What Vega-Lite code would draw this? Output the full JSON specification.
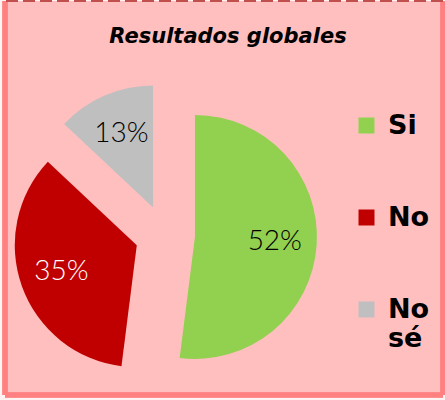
{
  "$schema": "https://vega.github.io/schema/vega-lite/v6.json",
  "width": 438,
  "height": 394,
  "autosize": "none",
  "padding": {"left": 5, "top": 1, "right": 2, "bottom": 5},
  "background": "#FFF2F2",
  "title": {"text": "Resultados globales", "font": "DejaVu Sans", "fontSize": 21, "fontWeight": "bold", "fontStyle": "italic", "color": "black", "offset": -42, "baseline": "alphabetic", "dx": 4, "dy": 23},
  "config": {"view": {"fill": "#FFBFBF", "stroke": null}},
  "data": {"values": [
    {"respuesta": "Si", "porcentaje": 0.52},
    {"respuesta": "No", "porcentaje": 0.35},
    {"respuesta": "No sé", "porcentaje": 0.13}
  ]},
  "transform": [
    {"window": [{"op": "sum", "field": "porcentaje", "as": "fin"}], "sort": [{"field": "porcentaje", "order": "descending"}], "frame": [null, 0]},
    {"calculate": "datum.fin - datum.porcentaje", "as": "inicio"},
    {"calculate": "datum.fin - datum.porcentaje / 2", "as": "medio"},
    {"calculate": "sin(datum.medio * 2 * PI)", "as": "ex"},
    {"calculate": "cos(datum.medio * 2 * PI)", "as": "ey"}
  ],
  "layer": [
    {
      "mark": {"type": "arc", "outerRadius": 122},
      "encoding": {
        "x": {"field": "ex", "type": "quantitative", "scale": {"domain": [-5.3333, 9.2667], "nice": false, "zero": false}, "axis": null},
        "y": {"field": "ey", "type": "quantitative", "scale": {"domain": [-5.3333, 7.8], "nice": false, "zero": false}, "axis": null},
        "theta": {"field": "inicio", "type": "quantitative", "scale": {"domain": [0, 1], "range": [0, 6.283185307]}, "stack": null},
        "theta2": {"field": "fin"},
        "color": {
          "field": "respuesta", "type": "nominal",
          "scale": {"domain": ["Si", "No", "No sé"], "range": ["#92D050", "#C00000", "#BFBFBF"]},
          "legend": {
            "orient": "none", "legendX": 348, "legendY": 111, "title": null,
            "symbolType": "square", "symbolSize": 256, "symbolStrokeWidth": 0,
            "labelFont": "DejaVu Sans", "labelFontSize": 27, "labelFontWeight": "bold", "labelColor": "black",
            "rowPadding": 64, "labelOffset": 8, "padding": 0, "labelLimit": 200,
            "labelExpr": "datum.label == 'No sé' ? ['No', 'sé'] : datum.label"
          }
        }
      }
    },
    {
      "mark": {"type": "text", "radius": 80, "font": "Lato", "fontWeight": 300, "fontSize": 28},
      "encoding": {
        "x": {"field": "ex", "type": "quantitative"},
        "y": {"field": "ey", "type": "quantitative"},
        "theta": {"field": "medio", "type": "quantitative", "stack": null},
        "text": {"field": "porcentaje", "type": "quantitative", "format": ".0%"},
        "color": {"condition": {"test": "datum.respuesta === 'No'", "value": "white"}, "value": "black"}
      }
    },
    {
      "mark": {"type": "rule", "color": "#FF8080", "strokeWidth": 5},
      "encoding": {"x": {"datum": -5.3333, "type": "quantitative"}}
    },
    {
      "mark": {"type": "rule", "color": "#FF8080", "strokeWidth": 5},
      "encoding": {"x": {"datum": 9.2667, "type": "quantitative"}}
    },
    {
      "mark": {"type": "rule", "color": "#FF8080", "strokeWidth": 5},
      "encoding": {"y": {"datum": -5.3333, "type": "quantitative"}}
    },
    {
      "mark": {"type": "rule", "color": "#C0504D", "strokeWidth": 2, "strokeDash": [12, 5]},
      "encoding": {"y": {"datum": 7.8, "type": "quantitative"}}
    }
  ]
}
